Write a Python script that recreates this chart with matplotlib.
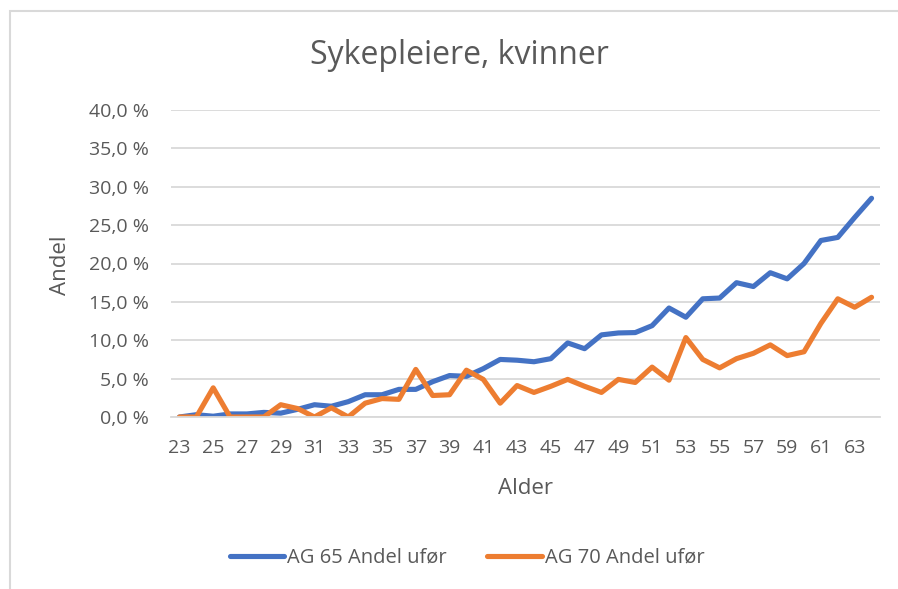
import matplotlib.pyplot as plt
from matplotlib.patches import Rectangle
from matplotlib.ticker import FuncFormatter

alder = list(range(23, 65))
ag65 = [0.0, 0.3, 0.1, 0.4, 0.4, 0.6, 0.5, 1.0, 1.6, 1.4, 2.0, 2.9, 2.9, 3.6, 3.6,
        4.6, 5.4, 5.3, 6.3, 7.5, 7.4, 7.2, 7.6, 9.65, 8.9, 10.7, 10.95, 11.0, 11.9,
        14.2, 13.0, 15.4, 15.5, 17.5, 17.0, 18.8, 18.0, 20.0, 23.0, 23.4, 26.0, 28.5]
ag70 = [0.0, 0.0, 3.8, 0.0, 0.0, 0.0, 1.6, 1.1, 0.0, 1.2, 0.0, 1.8, 2.4, 2.3, 6.2,
        2.8, 2.9, 6.1, 4.9, 1.8, 4.1, 3.2, 4.0, 4.9, 4.0, 3.2, 4.9, 4.5, 6.5, 4.8,
        10.35, 7.5, 6.4, 7.6, 8.3, 9.4, 8.0, 8.5, 12.2, 15.4, 14.3, 15.6]

tekst = "#595959"
plt.rcParams['font.family'] = ['Open Sans', 'DejaVu Sans']

fig = plt.figure(figsize=(8.98, 5.89), dpi=100)
ax = fig.add_axes([171 / 898, 172 / 589, 709 / 898, 307 / 589])

ax.plot(alder, ag65, color="#4472C4", lw=3.7, solid_capstyle="round",
        solid_joinstyle="round", label="AG 65 Andel ufør")
ax.plot(alder, ag70, color="#ED7D31", lw=3.7, solid_capstyle="round",
        solid_joinstyle="round", label="AG 70 Andel ufør")

ax.set_xlim(22.5, 64.5)
ax.set_ylim(0, 40)
ax.set_yticks(range(0, 41, 5))
ax.yaxis.set_major_formatter(FuncFormatter(lambda v, p: f"{v:.1f}".replace(".", ",") + " %"))
ax.set_xticks(range(23, 64, 2))
ax.grid(axis="y", color="#D9D9D9", lw=1.3)
ax.set_axisbelow(True)
for s in ["top", "right", "left"]:
    ax.spines[s].set_visible(False)
ax.spines["bottom"].set_color("#D9D9D9")
ax.spines["bottom"].set_linewidth(1.3)
ax.tick_params(length=0, labelsize=14, colors=tekst)
ax.tick_params(axis="y", pad=16)
ax.tick_params(axis="x", pad=15.5)

fig.text(525 / 898, 1 - 488 / 589, "Alder", fontsize=16, color=tekst,
         ha="center", va="center")
fig.text(61 / 898, 1 - 265 / 589, "Andel", fontsize=16, color=tekst,
         ha="center", va="center", rotation=90)
fig.text(459 / 898, 1 - 55 / 589, "Sykepleiere, kvinner", fontsize=23,
         color=tekst, ha="center", va="center")

fig.legend(loc="center", bbox_to_anchor=(467 / 898, 1 - 558 / 589), ncol=2,
           frameon=False, fontsize=14.5, labelcolor=tekst, handlelength=2.7,
           handletextpad=0.15, columnspacing=2.0)

fig.patches.append(Rectangle((9.5 / 898, -0.01), 1.0, 1 - 10.5 / 589 + 0.01,
                             transform=fig.transFigure, fill=False,
                             edgecolor="#D9D9D9", lw=1.5))

fig.savefig("out.png", dpi=100)
